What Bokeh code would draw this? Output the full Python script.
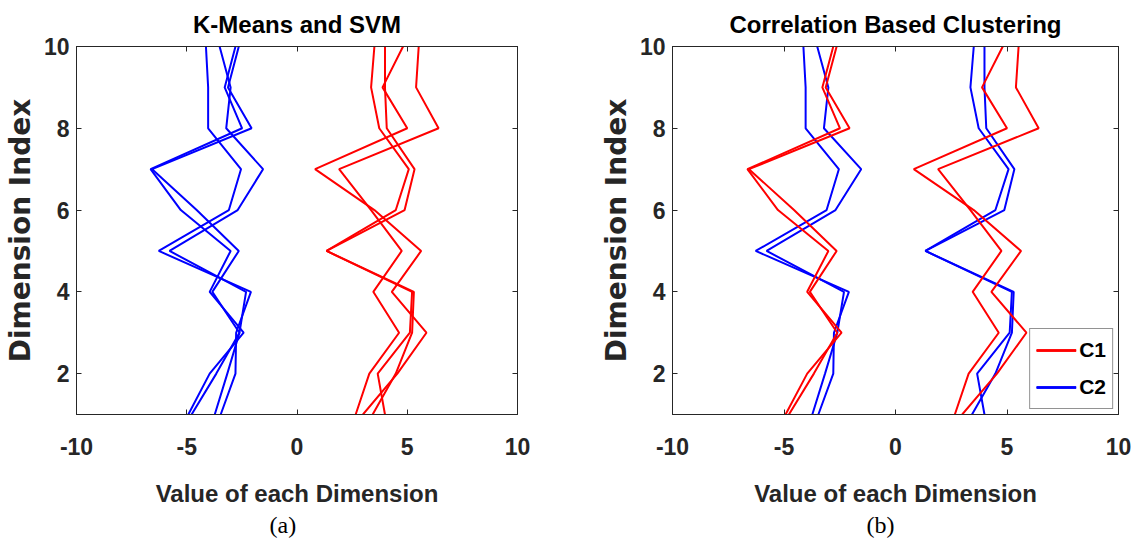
from bokeh.plotting import figure
from bokeh.layouts import row
from bokeh.models import Range1d, LinearAxis, Title, Legend, LegendItem, FixedTicker
from bokeh.embed import file_html
from bokeh.resources import INLINE

# ---------------- data ----------------
dims = [1, 2, 3, 4, 5, 6, 7, 8, 9, 10]          # Dimension Index
x_ticks = [-10, -5, 0, 5, 10]
x_tick_labels = ["-10", "-5", "0", "5", "10"]
y_ticks = [2, 4, 6, 8, 10]

# left-hand group of curves (values for dimensions 1..10)
curve_a = [-3.46, -2.79, -2.76, -2.09, -6.27, -3.09, -2.54, -4.03, -4.03, -4.13]
curve_b = [-3.73, -3.16, -2.61, -2.31, -5.78, -2.69, -1.54, -3.21, -3.01, -3.51]
curve_c = [-4.93, -3.96, -2.42, -3.96, -3.01, -5.27, -6.64, -2.49, -3.28, -2.79]
curve_d = [-4.78, -3.66, -2.61, -3.84, -2.64, -4.55, -6.57, -2.06, -3.13, -2.64]
# right-hand group of curves
curve_e = [3.99, 3.66, 5.12, 5.22, 1.34, 4.48, 5.07, 3.73, 3.36, 3.51]
curve_f = [3.43, 4.48, 5.22, 5.30, 1.34, 4.88, 5.33, 4.07, 3.99, 3.99]
curve_g = [2.99, 4.55, 5.87, 4.30, 5.63, 3.51, 0.82, 5.00, 3.88, 4.81]
curve_h = [2.66, 3.28, 4.63, 3.46, 4.75, 3.36, 1.91, 6.42, 5.40, 5.52]

curves = [curve_a, curve_b, curve_c, curve_d, curve_e, curve_f, curve_g, curve_h]
# cluster label per curve (C1 = red, C2 = blue)
labels_kmeans = ["C2", "C2", "C2", "C2", "C1", "C1", "C1", "C1"]
labels_corr = ["C2", "C2", "C1", "C1", "C2", "C2", "C1", "C1"]
cluster_names = ["C1", "C2"]
cluster_colors = {"C1": "#FF0000", "C2": "#0000FF"}

SANS = "Liberation Sans"
WIDE = "DejaVu Sans"
SERIF = "Liberation Serif"
DARK = "#262626"


def style_axis(ax, ticks, show_labels):
    ax.ticker = FixedTicker(ticks=ticks)
    ax.axis_line_color = DARK
    ax.axis_line_width = 1
    ax.major_tick_in = 5
    ax.major_tick_out = 0
    ax.major_tick_line_color = DARK
    ax.minor_tick_line_color = None
    if show_labels:
        ax.major_label_text_font = SANS
        ax.major_label_text_font_style = "bold"
        ax.major_label_text_font_size = "23px"
        ax.major_label_text_color = DARK
    else:
        ax.major_label_text_font_size = "0px"
        ax.major_label_text_color = None
        ax.major_label_text_alpha = 0
        ax.major_label_standoff = 0


def make_panel(title, caption, labels, width, left, right, cap_offset, with_legend):
    p = figure(width=width, height=540, x_range=Range1d(-10, 10), y_range=Range1d(1, 10),
               output_backend="svg", toolbar_location=None,
               min_border_left=left, min_border_right=right,
               min_border_top=46, min_border_bottom=126)
    p.title.text = title
    p.title.text_font = SANS
    p.title.text_font_style = "bold"
    p.title.text_font_size = "24px"
    p.title.align = "center"
    p.title.vertical_align = "top"
    p.title.text_color = "#000000"
    p.title.standoff = 14
    p.grid.visible = False
    p.outline_line_color = DARK
    p.outline_line_width = 1
    p.background_fill_color = "white"
    p.border_fill_color = "white"

    # axes
    style_axis(p.xaxis[0], x_ticks, True)
    style_axis(p.yaxis[0], y_ticks, True)
    p.xaxis.major_label_overrides = {t: s for t, s in zip(x_ticks, x_tick_labels)}
    p.xaxis.major_label_standoff = 23
    p.yaxis.major_label_standoff = 7
    p.xaxis.axis_label = "Value of each Dimension"
    p.xaxis.axis_label_text_font = SANS
    p.xaxis.axis_label_text_font_style = "bold"
    p.xaxis.axis_label_text_font_size = "24px"
    p.xaxis.axis_label_text_color = DARK
    p.xaxis.axis_label_standoff = 22
    p.yaxis.axis_label = "Dimension Index"
    p.yaxis.axis_label_text_font = WIDE
    p.yaxis.axis_label_text_font_style = "bold"
    p.yaxis.axis_label_text_font_size = "28px"
    p.yaxis.axis_label_text_color = DARK
    p.yaxis.axis_label_standoff = 4

    top = LinearAxis()
    style_axis(top, x_ticks, False)
    p.add_layout(top, "above")
    rgt = LinearAxis()
    style_axis(rgt, y_ticks, False)
    p.add_layout(rgt, "right")

    renderers = {"C1": [], "C2": []}
    for vals, lab in zip(curves, labels):
        r = p.line(vals, dims, line_color=cluster_colors[lab], line_width=2)
        renderers[lab].append(r)

    if with_legend:
        items = [LegendItem(label=n, renderers=renderers[n]) for n in cluster_names]
        leg = Legend(items=items, location="bottom_right", margin=5, padding=6,
                     spacing=7, glyph_width=40, glyph_height=30, label_height=30,
                     label_standoff=3, label_text_font=SANS, label_text_font_style="bold",
                     label_text_font_size="21px", label_text_color="#000000",
                     border_line_color=DARK, border_line_width=1,
                     background_fill_color="white", background_fill_alpha=1)
        p.add_layout(leg, "center")

    cap = Title(text=caption, align="left", offset=cap_offset, text_font=SERIF,
                text_font_style="normal", text_font_size="24px", text_color="#000000",
                standoff=0)
    p.add_layout(cap, "below")
    return p


pa = make_panel("K-Means and SVM", "(a)", labels_kmeans, 567, 70, 50, 193, False)
pb = make_panel("Correlation Based Clustering", "(b)", labels_corr, 568, 105, 17, 194, True)

layout = row(pa, pb)
open("out.html", "w").write(file_html(layout, INLINE))
